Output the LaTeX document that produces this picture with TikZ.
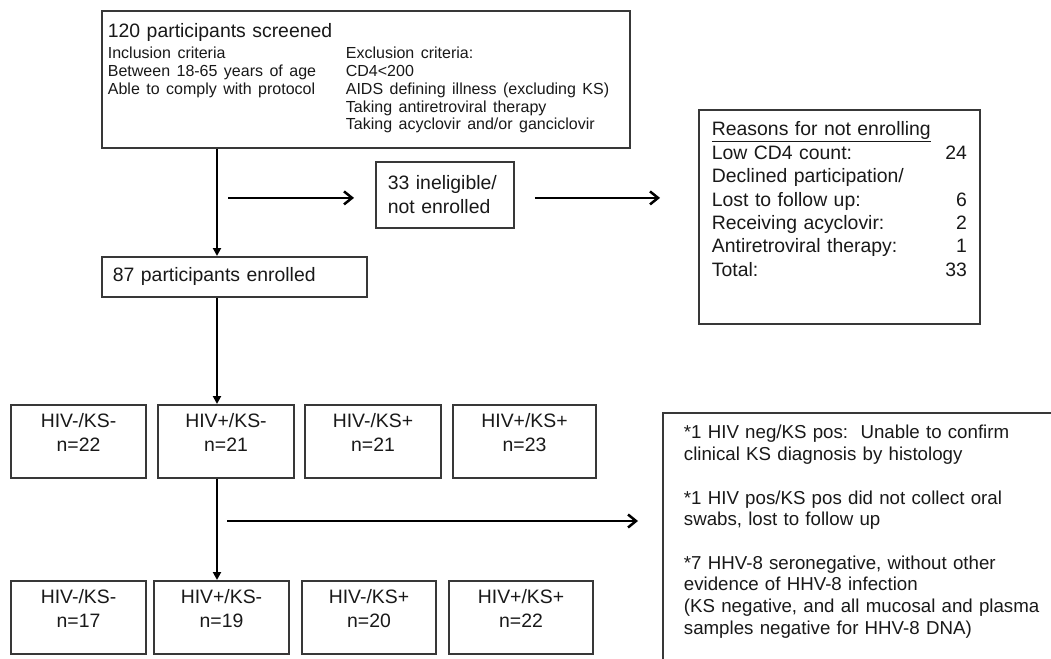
\documentclass[tikz,border=0pt]{standalone}
\usepackage{fontspec}
\setmainfont{Liberation Sans}
\usetikzlibrary{arrows.meta, calc}

\begin{document}
\begin{tikzpicture}[x=1pt, y=-1pt,
		flowbox/.style = {draw=black!78, line width=1.8pt, rectangle, anchor=north west, align=left, text=black!90, font=\fontsize{19.4}{24}\selectfont},
		groupbox/.style = {draw=black!78, line width=1.8pt, rectangle, anchor=north, align=center, text=black!90, inner xsep=0pt, inner ysep=9pt, text height=14pt, text depth=41pt, font=\fontsize{19.4}{24}\selectfont},
		downarrow/.style = {line width=2.3pt, -{Triangle[length=8pt, width=8pt]}},
		sidearrow/.style = {line width=2.5pt, -{Straight Barb[length=8pt, width=13pt]}}
	]
	\path[fill=white, use as bounding box] (0,0) rectangle (1051,658);
	\clip (0,0) rectangle (1051,658);

	\node[flowbox, minimum width=528pt, minimum height=137pt, inner xsep=6pt, text width=516pt] (screened) at (101,10) {%
		\fontsize{16}{17.7}\selectfont
		\begin{tabular}{@{}p{238pt}@{}l@{}}
			\multicolumn{2}{@{}l@{}}{\fontsize{19.4}{21}\selectfont 120 participants screened}\\[3.5pt]
			Inclusion criteria & Exclusion criteria:\\
			Between 18-65 years of age & CD4<200\\
			Able to comply with protocol & AIDS defining illness (excluding KS)\\
			& Taking antiretroviral therapy\\
			& Taking acyclovir and/or ganciclovir
		\end{tabular}};

	\node[flowbox, minimum width=138pt, minimum height=66pt, inner xsep=12pt, text width=114pt] (inelig) at (375,161) {33 ineligible/\\not enrolled};

	\node[flowbox, inner xsep=13pt, inner ysep=10pt, text width=255pt, text height=16pt, text depth=178pt, font=\fontsize{19.4}{23.4}\selectfont] (reasons) at (698,109) {%
		\underline{Reasons for not enrolling}\\
		Low CD4 count:\hfill 24\\
		Declined participation/\\
		Lost to follow up:\hfill 6\\
		Receiving acyclovir:\hfill 2\\
		Antiretroviral therapy:\hfill 1\\
		Total:\hfill 33};

	\node[flowbox, minimum width=265pt, minimum height=40pt, inner xsep=11pt, text width=243pt] (enrolled) at (101,256) {87 participants enrolled};

	\node[groupbox, text width=135pt] (hnkn1) at (78.5,404) {HIV-/KS-\\n=22};
	\node[groupbox, text width=136pt] (hpkn1) at (226,404) {HIV+/KS-\\n=21};
	\node[groupbox, text width=136pt] (hnkp1) at (373,404) {HIV-/KS+\\n=21};
	\node[groupbox, text width=143pt] (hpkp1) at (524.5,404) {HIV+/KS+\\n=23};

	\node[groupbox, text width=135pt] (hnkn2) at (78.5,580) {HIV-/KS-\\n=17};
	\node[groupbox, text width=135pt] (hpkn2) at (221.5,580) {HIV+/KS-\\n=19};
	\node[groupbox, text width=134pt] (hnkp2) at (369,580) {HIV-/KS+\\n=20};
	\node[groupbox, text width=144pt] (hpkp2) at (521,580) {HIV+/KS+\\n=22};

	\node[flowbox, inner xsep=21pt, inner ysep=10pt, text width=420pt, text height=16pt, text depth=260pt, font=\fontsize{18.7}{21.7}\selectfont] (notes) at (662,412) {%
		*1 HIV neg/KS pos:\ \ Unable to confirm\\
		clinical KS diagnosis by histology\\[\baselineskip]
		*1 HIV pos/KS pos did not collect oral\\
		swabs, lost to follow up\\[\baselineskip]
		*7 HHV-8 seronegative, without other\\
		evidence of HHV-8 infection\\
		(KS negative, and all mucosal and plasma\\
		samples negative for HHV-8 DNA)};

	\coordinate (trunk) at (217,0);
	\coordinate (split) at (217,521);

	\draw[downarrow] (screened.south -| trunk) -- (enrolled.north -| trunk);
	\draw[sidearrow] ($(inelig.west -| trunk)+(11,3)$) -- ($(inelig.west)+(-21,3)$);
	\draw[sidearrow] ($(inelig.east)+(20,3)$) -- ($(inelig.east -| reasons.west)+(-38,3)$);
	\draw[downarrow] (enrolled.south -| trunk) -- (hpkn1.north -| trunk);
	\draw[downarrow] (hpkn1.south -| trunk) -- (hpkn2.north -| trunk);
	\draw[sidearrow] ($(split)+(10,0)$) -- ($(split -| notes.west)+(-24,0)$);
\end{tikzpicture}
\end{document}
